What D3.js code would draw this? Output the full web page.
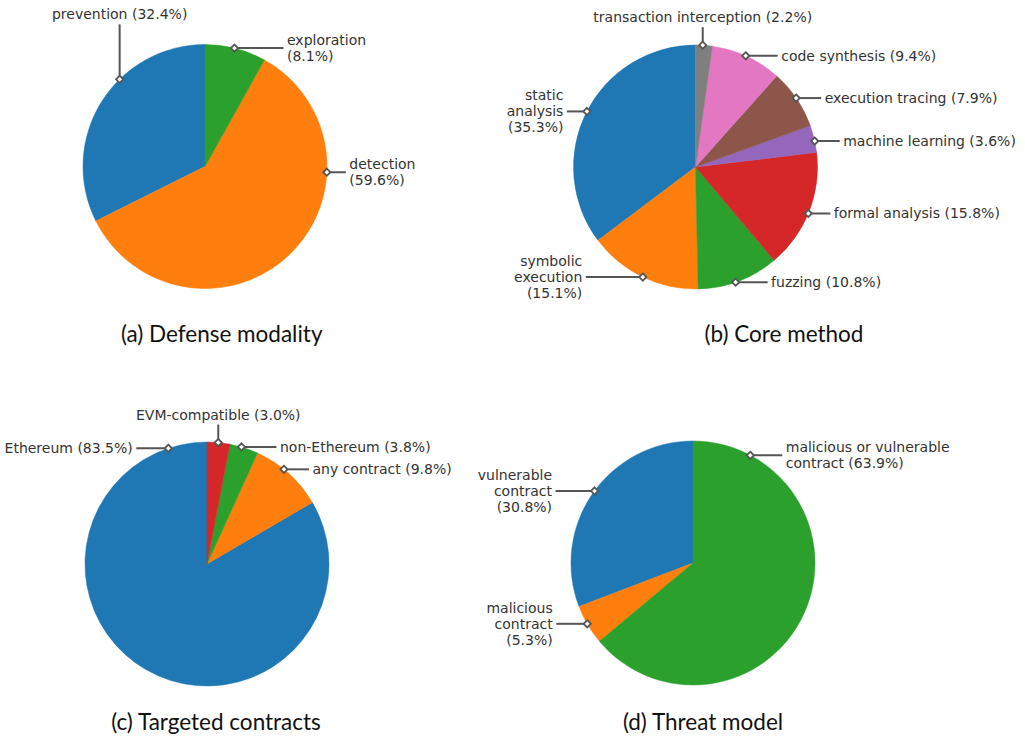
<!DOCTYPE html>
<html>
<head>
<meta charset="utf-8">
<script src="https://cdn.jsdelivr.net/npm/d3@7"></script>
<style>
  html, body { margin: 0; padding: 0; background: #fff; }
  svg { display: block; }
</style>
</head>
<body>
<svg id="chart" width="1025" height="741"></svg>
<script>
// ---------------- data ----------------
const modalityLabels = ["prevention", "detection", "exploration"];
const modalityValues = [32.4, 59.6, 8.1];

const methodLabels = ["static analysis", "symbolic execution", "fuzzing", "formal analysis",
  "machine learning", "execution tracing", "code synthesis", "transaction interception"];
const methodValues = [35.3, 15.1, 10.8, 15.8, 3.6, 7.9, 9.4, 2.2];

const contractLabels = ["Ethereum", "any contract", "non-Ethereum", "EVM-compatible"];
const contractValues = [83.5, 9.8, 3.8, 3.0];

const threatLabels = ["vulnerable contract", "malicious contract", "malicious or vulnerable contract"];
const threatValues = [30.8, 5.3, 63.9];

const panelTitles = ["(a) Defense modality", "(b) Core method", "(c) Targeted contracts", "(d) Threat model"];

const palette = ["#1f77b4", "#ff7f0e", "#2ca02c", "#d62728", "#9467bd", "#8c564b", "#e377c2", "#7f7f7f"];

// ---------------- layout (annotation placement) ----------------
// angle: degrees clockwise from 12 o'clock where the leader touches the rim
const panels = [
  { labels: modalityLabels, values: modalityValues, cx: 205, cy: 166.5, r: 122,
    title: { x: 221.7, y: 342 },
    callouts: [
      { angle: 315.6, dir: "up", len: 55, lines: ["prevention {p}"] },
      { angle: 92.7, dir: "right", len: 19, lines: ["detection", "{p}"] },
      { angle: 14.0, dir: "right", len: 49, lines: ["exploration", "{p}"] }
    ] },
  { labels: methodLabels, values: methodValues, cx: 695.5, cy: 167, r: 122,
    title: { x: 784, y: 342 },
    callouts: [
      { angle: 297.1, dir: "left", len: 20, lines: ["static", "analysis", "{p}"] },
      { angle: 205.6, dir: "left", len: 57, lines: ["symbolic", "execution", "{p}"] },
      { angle: 160.8, dir: "right", len: 32, lines: ["fuzzing {p}"] },
      { angle: 112.4, dir: "right", len: 22, lines: ["formal analysis {p}"] },
      { angle: 77.7, dir: "right", len: 25, lines: ["machine learning {p}"] },
      { angle: 55.6, dir: "right", len: 25, lines: ["execution tracing {p}"] },
      { angle: 24.3, dir: "right", len: 32, lines: ["code synthesis {p}"] },
      { angle: 3.4, dir: "up", len: 18, lines: ["transaction interception {p}"] }
    ] },
  { labels: contractLabels, values: contractValues, cx: 207, cy: 564, r: 122,
    title: { x: 216, y: 730 },
    callouts: [
      { angle: 341.5, dir: "left", len: 32, lines: ["Ethereum {p}"] },
      { angle: 39.1, dir: "right", len: 25, lines: ["any contract {p}"] },
      { angle: 16.4, dir: "right", len: 35, lines: ["non-Ethereum {p}"] },
      { angle: 5.3, dir: "up", len: 18, lines: ["EVM-compatible {p}"] }
    ] },
  { labels: threatLabels, values: threatValues, cx: 693, cy: 563, r: 122,
    title: { x: 703, y: 730 },
    callouts: [
      { angle: 306.2, dir: "left", len: 39, lines: ["vulnerable", "contract", "{p}"] },
      { angle: 240.1, dir: "left", len: 31, lines: ["malicious", "contract", "{p}"] },
      { angle: 28.0, dir: "right", len: 32, lines: ["malicious or vulnerable", "contract {p}"] }
    ] }
];

// ---------------- drawing ----------------
const svg = d3.select("#chart");
const labelFont = "'DejaVu Sans', sans-serif";
const labelSize = 14;
const lineH = 16;
const textColor = "#333333";
const leaderColor = "#555555";

panels.forEach((p, pi) => {
  const g = svg.append("g").attr("transform", `translate(${p.cx},${p.cy})`);

  const color = d3.scaleOrdinal().domain(p.labels).range(palette);

  // counter-clockwise from 12 o'clock, like matplotlib startangle=90
  const pie = d3.pie().sort(null).value(d => d.value)
    .startAngle(0).endAngle(-2 * Math.PI);
  const arcs = pie(p.labels.map((l, i) => ({ label: l, value: p.values[i] })));
  const arc = d3.arc().innerRadius(0).outerRadius(p.r);

  g.selectAll("path.slice").data(arcs).join("path")
    .attr("class", "slice")
    .attr("d", arc)
    .attr("fill", d => color(d.data.label))
    .attr("stroke", d => color(d.data.label))
    .attr("stroke-width", 0.5);

  const ann = g.append("g");
  p.callouts.forEach((c, ci) => {
    const a = c.angle * Math.PI / 180;
    const mx = p.r * Math.sin(a);
    const my = -p.r * Math.cos(a);
    let ex = mx, ey = my;
    if (c.dir === "right") ex = mx + c.len;
    else if (c.dir === "left") ex = mx - c.len;
    else ey = my - c.len;

    ann.append("line")
      .attr("x1", mx).attr("y1", my).attr("x2", ex).attr("y2", ey)
      .attr("stroke", leaderColor).attr("stroke-width", 2);

    const s = 3.6;
    ann.append("path")
      .attr("d", `M${mx},${my - s}L${mx + s},${my}L${mx},${my + s}L${mx - s},${my}Z`)
      .attr("fill", "#ffffff").attr("stroke", leaderColor).attr("stroke-width", 1.8);

    const pct = "(" + p.values[ci].toFixed(1) + "%)";
    const lines = c.lines.map(t => t.replace("{p}", pct));
    const n = lines.length;
    const t = ann.append("text")
      .attr("font-family", labelFont)
      .attr("font-size", labelSize)
      .attr("fill", textColor);
    if (c.dir === "up") {
      t.attr("text-anchor", "middle");
      lines.forEach((ln, li) => {
        t.append("tspan").attr("x", ex).attr("y", ey - 5 - (n - 1 - li) * lineH).text(ln);
      });
    } else {
      const tx = c.dir === "right" ? ex + 3.5 : ex - 3.5;
      t.attr("text-anchor", c.dir === "right" ? "start" : "end");
      lines.forEach((ln, li) => {
        t.append("tspan").attr("x", tx)
          .attr("y", ey + (li - (n - 1) / 2) * lineH + 5).text(ln);
      });
    }
  });

  svg.append("text")
    .attr("x", p.title.x).attr("y", p.title.y)
    .attr("text-anchor", "middle")
    .attr("font-family", "Lato, 'Open Sans', sans-serif")
    .attr("font-size", 22.5)
    .attr("fill", "#111")
    .text(panelTitles[pi]);
});
</script>
</body>
</html>
